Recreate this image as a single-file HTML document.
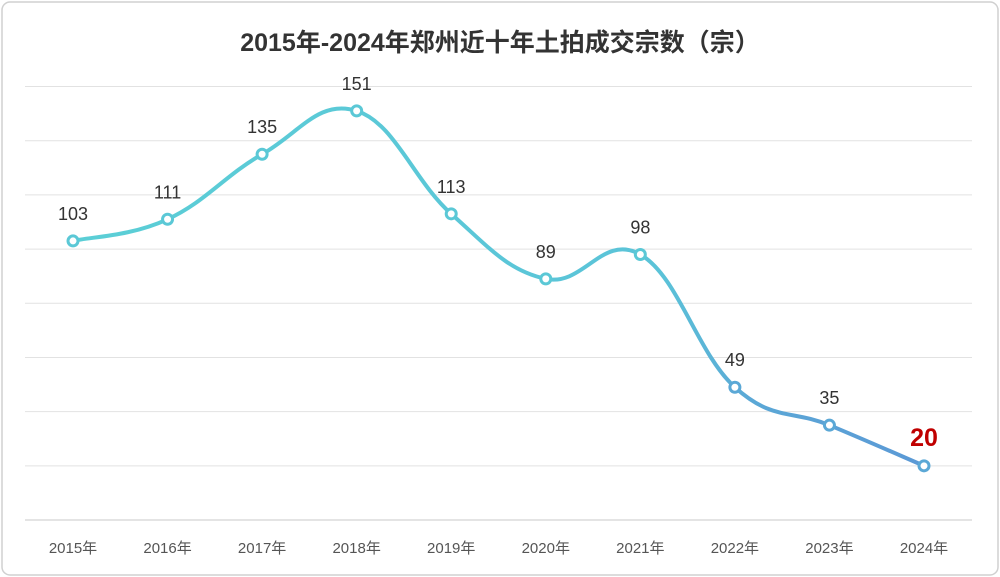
<!DOCTYPE html>
<html><head><meta charset="utf-8"><style>
html,body{margin:0;padding:0;background:#fff}
svg{display:block}
text{font-family:"Liberation Sans","Noto Sans CJK SC",sans-serif}
</style></head><body>
<svg id="chart" width="1000" height="577" viewBox="0 0 1000 577">
<defs>
<linearGradient id="lg" gradientUnits="userSpaceOnUse" x1="0" y1="0" x2="1000" y2="0">
<stop offset="0" stop-color="#5bd0d6"/><stop offset="0.66" stop-color="#5bc3d8"/><stop offset="0.75" stop-color="#5ba8d6"/><stop offset="1" stop-color="#5b92d5"/>
</linearGradient>
</defs>
<rect x="2" y="2" width="996" height="573" rx="8" fill="#fff" stroke="#d0d0d0" stroke-width="1.5"/>
<text x="500" y="51" text-anchor="middle" font-size="25" font-weight="bold" fill="#333">2015年-2024年郑州近十年土拍成交宗数（宗）</text>
<g id="grid"></g><g id="xlabels"></g><path id="line" fill="none" stroke="url(#lg)" stroke-width="4"/><g id="points"></g>
</svg>
<script>
const categories=["2015年","2016年","2017年","2018年","2019年","2020年","2021年","2022年","2023年","2024年"];
const values=[103,111,135,151,113,89,98,49,35,20];
const ticks=[0,20,40,60,80,100,120,140,160];
const NS="http://www.w3.org/2000/svg";
const x0=73,x1=924,y0=520,yMax=160,yTop=86.5;
const xs=i=>x0+i*(x1-x0)/(categories.length-1);
const ys=v=>y0-v*(y0-yTop)/yMax;
function mk(t,a,p){const e=document.createElementNS(NS,t);for(const k in a)e.setAttribute(k,a[k]);p.appendChild(e);return e;}
const g=document.getElementById('grid');
ticks.forEach(t=>{const l=mk('line',{x1:25,x2:972,y1:ys(t),y2:ys(t),stroke:t===0?'#c8c8c8':'#e2e2e2','stroke-width':1},g);

});
const xl=document.getElementById('xlabels');
categories.forEach((c,i)=>{const t=mk('text',{x:xs(i),y:553,'text-anchor':'middle','font-size':15,fill:'#555'},xl);t.textContent=c;

});
const P=values.map((v,i)=>[xs(i),ys(v)]);
let d=`M${P[0][0]},${P[0][1]}`;const k=0.2;
for(let i=0;i<P.length-1;i++){const p0=P[i-1]||P[i],p1=P[i],p2=P[i+1],p3=P[i+2]||P[i+1];
let c1=[p1[0]+(p2[0]-p0[0])*k,p1[1]+(p2[1]-p0[1])*k],c2=[p2[0]-(p3[0]-p1[0])*k,p2[1]-(p3[1]-p1[1])*k];
d+=` C${c1[0]},${c1[1]} ${c2[0]},${c2[1]} ${p2[0]},${p2[1]}`;}
document.getElementById('line').setAttribute('d',d);
const pg=document.getElementById('points');
values.forEach((v,i)=>{const c=mk('circle',{cx:xs(i),cy:ys(v),r:5,fill:'#fff',stroke:i>=7?'#5ba8d6':'#5bc8d6','stroke-width':3},pg);


const last=i===values.length-1;
const t=mk('text',{x:xs(i),y:ys(v)-(last?20:21),'text-anchor':'middle','font-size':last?25:18,'font-weight':last?'bold':'normal',fill:last?'#c00000':'#333'},pg);t.textContent=v;

});
</script>
</body></html>
